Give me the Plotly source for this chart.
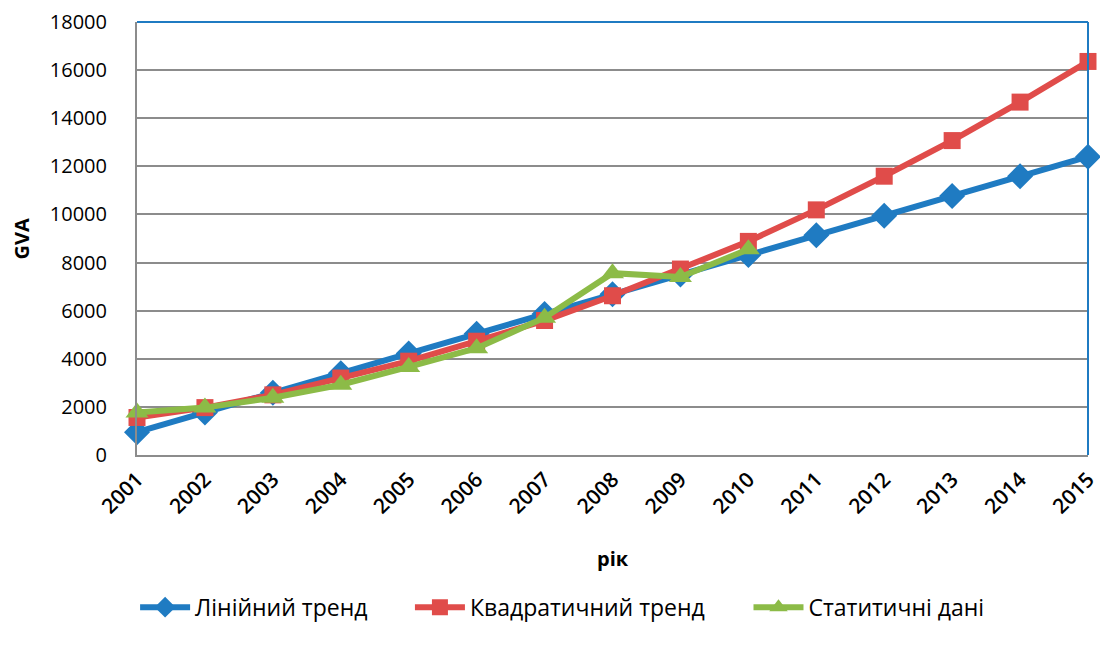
import plotly.graph_objects as go

years = [str(y) for y in range(2001, 2016)]
linear = [950, 1770, 2590, 3400, 4220, 5040, 5860, 6680, 7500, 8310, 9130, 9950, 10770, 11590, 12400]
quad = [1560, 1970, 2500, 3200, 3900, 4730, 5590, 6620, 7730, 8880, 10190, 11590, 13070, 14670, 16360]
stat_years = years[:10]
stat = [1770, 1970, 2380, 2920, 3660, 4440, 5710, 7560, 7400, 8550]

names = ["Лінійний тренд", "Квадратичний тренд", "Статитичні дані"]
colors = ["#1F7BC2", "#E04C4A", "#8CBB47"]

FONT = "Open Sans, Liberation Sans, sans-serif"

fig = go.Figure()
fig.add_trace(go.Scatter(x=years, y=linear, name=names[0], mode="lines+markers",
                         line=dict(color=colors[0], width=6),
                         marker=dict(symbol="diamond", size=20, color=colors[0]),
                         cliponaxis=False, legend="legend"))
fig.add_trace(go.Scatter(x=years, y=quad, name=names[1], mode="lines+markers",
                         line=dict(color=colors[1], width=6),
                         marker=dict(symbol="square", size=17, color=colors[1]),
                         cliponaxis=False, legend="legend2"))
fig.add_trace(go.Scatter(x=stat_years, y=stat, name=names[2], mode="lines+markers",
                         line=dict(color=colors[2], width=6),
                         marker=dict(symbol="triangle-up", size=20, color=colors[2]),
                         cliponaxis=False, legend="legend3"))

leg_common = dict(orientation="h", y=-0.398, yanchor="bottom", xanchor="left",
                  font=dict(size=23, family=FONT), itemwidth=50, bgcolor="rgba(0,0,0,0)")

fig.update_layout(
    width=1092, height=632,
    margin=dict(l=129, r=12, t=14, b=184),
    paper_bgcolor="white", plot_bgcolor="white",
    font=dict(family=FONT, color="black", size=20),
    legend=dict(x=-0.002, **leg_common),
    legend2=dict(x=0.287, **leg_common),
    legend3=dict(x=0.643, **leg_common),
    xaxis=dict(type="category", range=[0, 14], showgrid=False, automargin=False,
               tickangle=-45, tickfont=dict(size=21, family=FONT, weight=600),
               showline=True, linecolor="#8c8c8c", linewidth=2, mirror=False,
               ticks="", ticklabelstandoff=2, ticklabeloverflow="allow"),
    yaxis=dict(range=[0, 18000], dtick=2000, showgrid=True, gridcolor="#8c8c8c", gridwidth=2,
               tickformat="d", automargin=False, ticklabeloverflow="allow",
               tickfont=dict(size=20, family=FONT),
               showline=True, linecolor="#8c8c8c", linewidth=2, zeroline=False,
               ticks="", ticklabelstandoff=24),
    showlegend=True,
    annotations=[
        dict(text="<b>рік</b>", xref="paper", yref="paper", x=0.5, y=-0.2396,
             showarrow=False, xanchor="center", yanchor="middle",
             font=dict(size=20, family=FONT)),
        dict(text="<b>GVA</b>", xref="paper", yref="paper", x=-0.121, y=0.5,
             textangle=-90, showarrow=False, xanchor="center", yanchor="middle",
             font=dict(size=20, family=FONT)),
    ],
)
# blue frame on top and right
fig.add_shape(type="line", xref="paper", yref="paper", x0=0, x1=1, y0=1, y1=1,
              line=dict(color="#1F7BC2", width=2))
fig.add_shape(type="line", xref="paper", yref="paper", x0=1, x1=1, y0=0, y1=1,
              line=dict(color="#1F7BC2", width=2))

fig.write_html("out.html")
